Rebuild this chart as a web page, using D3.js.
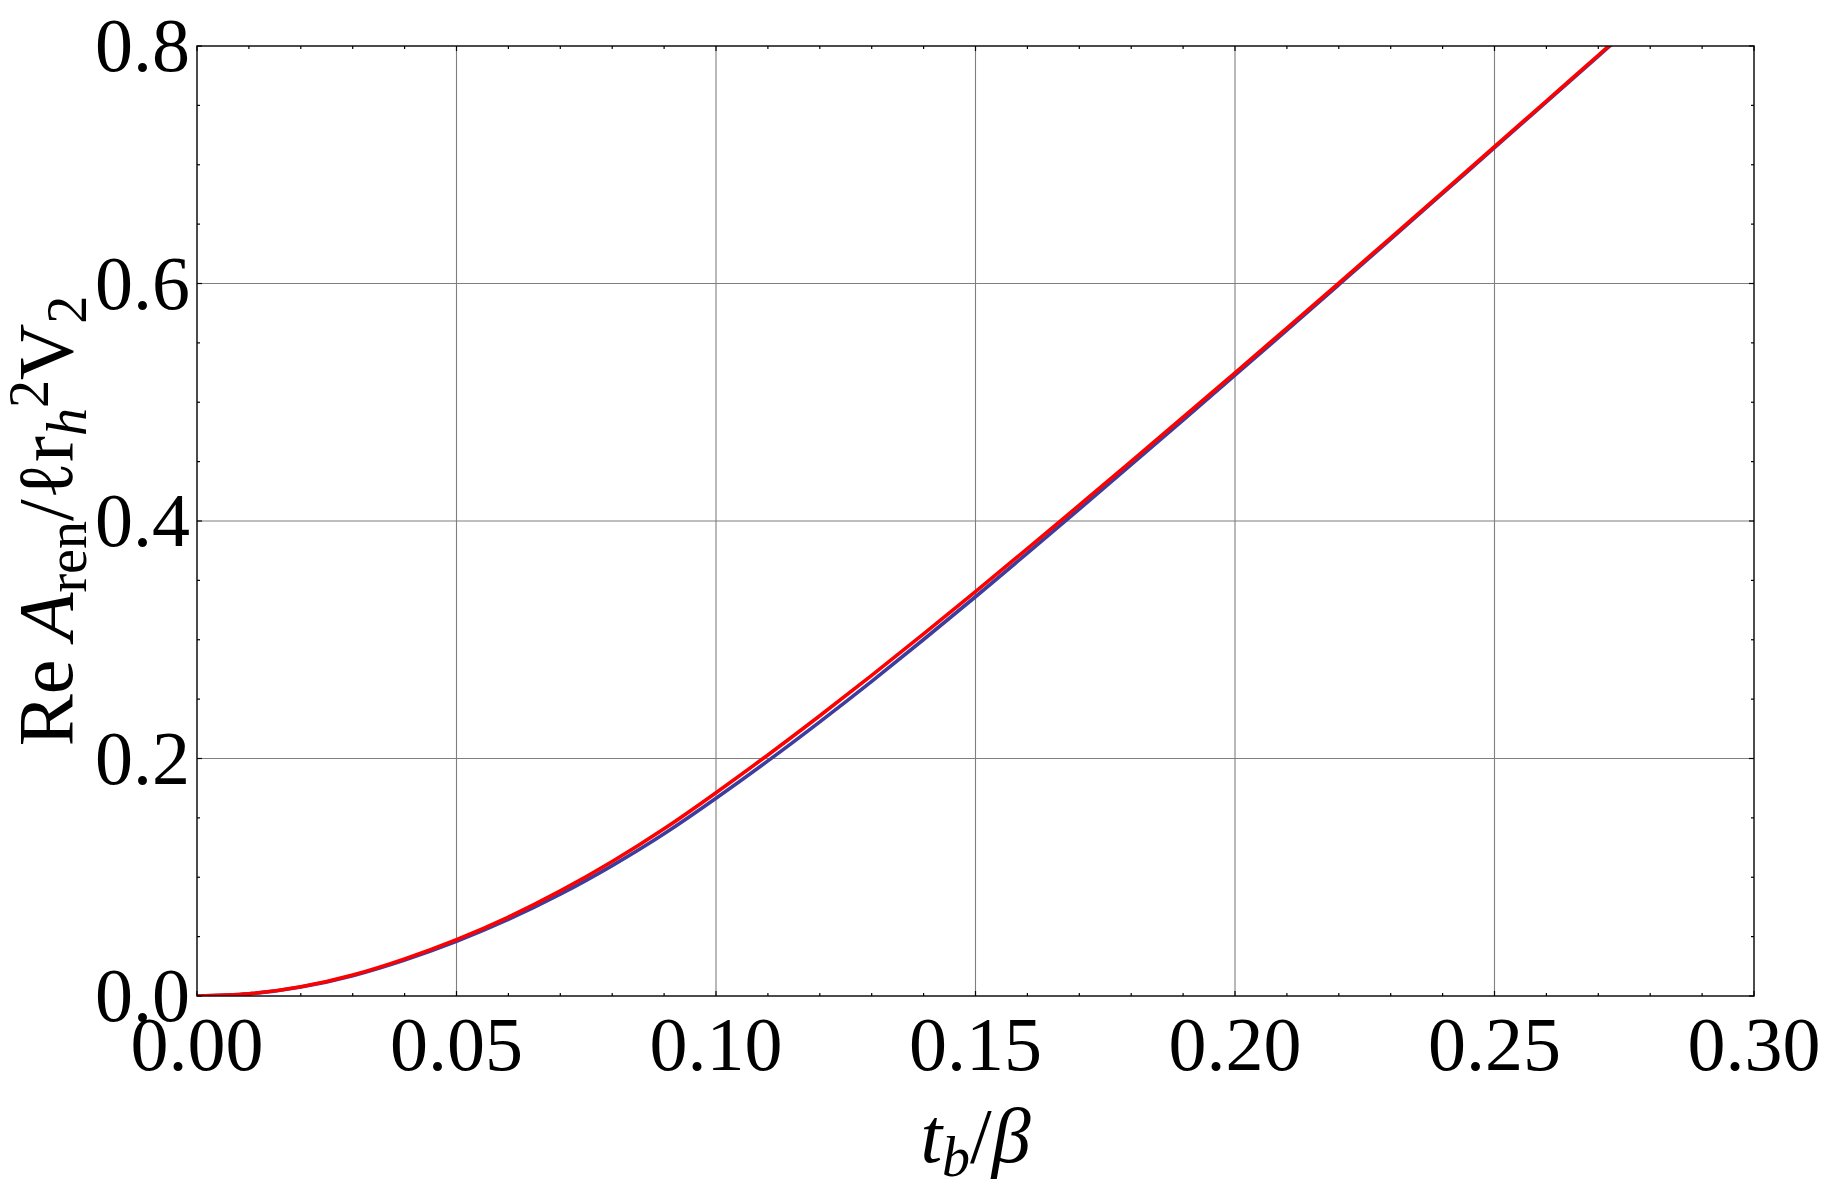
<!DOCTYPE html>
<html>
<head>
<meta charset="utf-8">
<script src="https://cdn.jsdelivr.net/npm/d3@7"></script>
<style>
  html, body { margin: 0; padding: 0; background: #fff; }
  svg { display: block; }
  text { font-family: "Liberation Serif", "Times New Roman", serif; fill: #000; }
</style>
</head>
<body>
<svg id="chart" width="1821" height="1190"></svg>
<script>
// ---- data ----
const tValues   = [0, 0.01, 0.02, 0.03, 0.04, 0.05, 0.06, 0.07, 0.08, 0.09, 0.10, 0.11, 0.12, 0.13, 0.14, 0.15, 0.16, 0.17, 0.18, 0.19, 0.20, 0.21, 0.22, 0.23, 0.24, 0.25, 0.26, 0.27, 0.28];
const redValues = [0, 0.0019, 0.0078, 0.0177, 0.0313, 0.0475, 0.0665, 0.0885, 0.1133, 0.1408, 0.1712, 0.2030, 0.2360, 0.2700, 0.3049, 0.3405, 0.3767, 0.4133, 0.4502, 0.4874, 0.5248, 0.5625, 0.6004, 0.6385, 0.6768, 0.7152, 0.7537, 0.7922, 0.8308];
const blueValues= [0, 0.0018, 0.0075, 0.0171, 0.0303, 0.0461, 0.0645, 0.0857, 0.1098, 0.1366, 0.1665, 0.1980, 0.2309, 0.2650, 0.3002, 0.3362, 0.3729, 0.4100, 0.4474, 0.4850, 0.5228, 0.5608, 0.5990, 0.6373, 0.6758, 0.7143, 0.7529, 0.7915, 0.8302];
const xMajorTicks = [0, 0.05, 0.10, 0.15, 0.20, 0.25, 0.30];
const xTickLabels = ["0.00", "0.05", "0.10", "0.15", "0.20", "0.25", "0.30"];
const yMajorTicks = [0, 0.2, 0.4, 0.6, 0.8];
const yTickLabels = ["0.0", "0.2", "0.4", "0.6", "0.8"];
const xMinorStep = 0.01;
const yMinorStep = 0.05;

// ---- layout ----
const L = 197, R = 1754, T = 46, B = 996;
const svg = d3.select("#chart");
const x = d3.scaleLinear().domain([0, 0.3]).range([L, R]);
const y = d3.scaleLinear().domain([0, 0.8]).range([B, T]);

const xMinor = d3.range(0, 0.3 + 1e-9, xMinorStep).filter(v => xMajorTicks.every(m => Math.abs(m - v) > 1e-6));
const yMinor = d3.range(0, 0.8 + 1e-9, yMinorStep).filter(v => yMajorTicks.every(m => Math.abs(m - v) > 1e-6));

// grid
const grid = svg.append("g").attr("stroke", "#7f7f7f").attr("stroke-width", 1.1);
grid.selectAll("line.gx").data(xMajorTicks.slice(1, -1)).join("line")
  .attr("x1", d => x(d)).attr("x2", d => x(d)).attr("y1", T).attr("y2", B);
grid.selectAll("line.gy").data(yMajorTicks.slice(1, -1)).join("line")
  .attr("y1", d => y(d)).attr("y2", d => y(d)).attr("x1", L).attr("x2", R);

// ticks (inside, on all four sides)
const ticks = svg.append("g").attr("stroke", "#000").attr("stroke-width", 1.2);
const minorLen = 3, majorLen = 5;
[[xMinor, minorLen], [xMajorTicks, majorLen]].forEach(([arr, len]) => {
  arr.forEach(v => {
    ticks.append("line").attr("x1", x(v)).attr("x2", x(v)).attr("y1", B).attr("y2", B - len);
    ticks.append("line").attr("x1", x(v)).attr("x2", x(v)).attr("y1", T).attr("y2", T + len);
  });
});
[[yMinor, minorLen], [yMajorTicks, majorLen]].forEach(([arr, len]) => {
  arr.forEach(v => {
    ticks.append("line").attr("y1", y(v)).attr("y2", y(v)).attr("x1", L).attr("x2", L + len);
    ticks.append("line").attr("y1", y(v)).attr("y2", y(v)).attr("x1", R).attr("x2", R - len);
  });
});

// curves
svg.append("defs").append("clipPath").attr("id", "clip")
  .append("rect").attr("x", L).attr("y", T).attr("width", R - L).attr("height", B - T);
const line = d3.line().x(d => x(d[0])).y(d => y(d[1])).curve(d3.curveNatural);
const curves = svg.append("g").attr("clip-path", "url(#clip)");
curves.append("path").datum(tValues.map((t, i) => [t, blueValues[i]]))
  .attr("d", line).attr("fill", "none").attr("stroke", "#3d3d9e").attr("stroke-width", 3.6);
curves.append("path").datum(tValues.map((t, i) => [t, redValues[i]]))
  .attr("d", line).attr("fill", "none").attr("stroke", "#ff0000").attr("stroke-width", 3.6);

// frame
svg.append("rect").attr("x", L).attr("y", T).attr("width", R - L).attr("height", B - T)
  .attr("fill", "none").attr("stroke", "#000").attr("stroke-width", 1.4);

// tick labels
const fs = 76;
svg.append("g").selectAll("text").data(xMajorTicks).join("text")
  .attr("x", d => x(d)).attr("y", 1070).attr("text-anchor", "middle")
  .attr("font-size", fs).text((d, i) => xTickLabels[i]);
svg.append("g").selectAll("text").data(yMajorTicks).join("text")
  .attr("x", 190).attr("y", d => y(d) + 25).attr("text-anchor", "end")
  .attr("font-size", fs).text((d, i) => yTickLabels[i]);

// x axis label: t_b / β
const xl = svg.append("text").attr("x", (L + R) / 2).attr("y", 1162)
  .attr("text-anchor", "middle").attr("font-size", 78);
xl.append("tspan").attr("font-style", "italic").text("t");
xl.append("tspan").attr("font-style", "italic").attr("font-size", 56).attr("dy", 14).text("b");
xl.append("tspan").attr("dy", -14).text("/");
xl.append("tspan").attr("font-style", "italic").text("β");

// y axis label: Re A_ren / ℓ r_h^2 V_2
const yl = svg.append("text").attr("transform", `translate(72, ${(T + B) / 2}) rotate(-90)`)
  .attr("text-anchor", "middle").attr("font-size", 78);
yl.append("tspan").text("Re ");
yl.append("tspan").attr("font-style", "italic").text("A");
yl.append("tspan").attr("font-size", 56).attr("dy", 14).text("ren");
yl.append("tspan").attr("dy", -14).text("/ℓr");
yl.append("tspan").attr("font-style", "italic").attr("font-size", 56).attr("dy", 14).text("h");
yl.append("tspan").attr("font-size", 56).attr("dy", -38).text("2");
yl.append("tspan").attr("dy", 24).text("V");
yl.append("tspan").attr("font-size", 56).attr("dy", 14).text("2");
</script>
</body>
</html>
